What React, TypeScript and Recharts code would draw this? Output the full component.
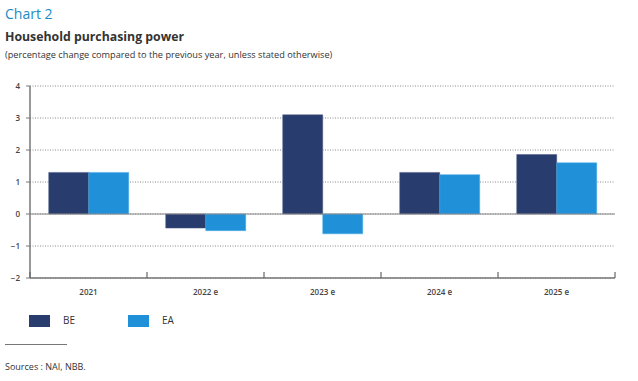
import { BarChart, Bar, XAxis, YAxis, CartesianGrid, ReferenceLine } from "recharts"

const years = ["2021", "2022 e", "2023 e", "2024 e", "2025 e"]
const beValues = [1.3, -0.44, 3.1, 1.3, 1.86]
const eaValues = [1.3, -0.52, -0.62, 1.23, 1.6]
const yTicks = [-2, -1, 0, 1, 2, 3, 4]

const chartData = years.map((year, i) => ({ year, BE: beValues[i], EA: eaValues[i] }))

const BE_COLOR = "#283d6d"
const EA_COLOR = "#2091d9"
const FONT = "'Open Sans', 'DejaVu Sans', sans-serif"

const CHART_W = 638
const LEFT = 30
const RIGHT = 23
const BAND = (CHART_W - LEFT - RIGHT) / years.length

const XTick = (props: any) => {
  const { x, y, payload, index } = props
  return (
    <g>
      <line x1={x - BAND / 2} x2={x - BAND / 2} y1={y - 6} y2={y} stroke="#666" strokeWidth={1.2} />
      {index === years.length - 1 && (
        <line x1={x + BAND / 2} x2={x + BAND / 2} y1={y - 6} y2={y} stroke="#666" strokeWidth={1.2} />
      )}
      <text x={x} y={y + 17} textAnchor="middle" fontSize={8} fontWeight={600} fill="#444" fontFamily={FONT}>
        {payload.value}
      </text>
    </g>
  )
}

const fmtY = (v: number) => (v < 0 ? "\u2212" + Math.abs(v) : String(v))

export default function App() {
  return (
    <div style={{ position: "absolute", top: 0, left: 0, width: 638, height: 381, background: "#fff", fontFamily: FONT }}>
      <div style={{ position: "absolute", left: 5, top: 4, fontSize: 14, color: "#1b8bc6" }}>Chart 2</div>
      <div style={{ position: "absolute", left: 5, top: 28, fontSize: 12.3, fontWeight: 700, color: "#333" }}>
        Household purchasing power
      </div>
      <div style={{ position: "absolute", left: 5, top: 48, fontSize: 9.2, color: "#333" }}>
        (percentage change compared to the previous year, unless stated otherwise)
      </div>

      <div style={{ position: "absolute", left: 0, top: 0 }}>
        <BarChart
          width={CHART_W}
          height={300}
          data={chartData}
          margin={{ top: 86, right: RIGHT, left: 0, bottom: 0 }}
          barCategoryGap="16%"
          barGap={0}
        >
          <CartesianGrid vertical={false} stroke="#888" strokeDasharray="1 1.5" />
          <XAxis
            dataKey="year"
            height={22}
            tickLine={false}
            tickSize={0}
            tickMargin={0}
            tick={<XTick />}
            interval={0}
            axisLine={{ stroke: "#777", strokeWidth: 1.5 }}
          />
          <YAxis
            width={LEFT}
            domain={[-2, 4]}
            ticks={yTicks}
            tickFormatter={fmtY}
            tickSize={4}
            tickMargin={6}
            tick={{ fontSize: 8, fontWeight: 600, fill: "#444", fontFamily: FONT }}
            tickLine={{ stroke: "#777" }}
            axisLine={{ stroke: "#777", strokeWidth: 1.5 }}
          />
          <ReferenceLine y={0} stroke="#888" strokeWidth={1.2} />
          <Bar dataKey="BE" fill={BE_COLOR} stroke="#4a5a85" strokeWidth={0.5} isAnimationActive={false} />
          <Bar dataKey="EA" fill={EA_COLOR} stroke="#4aaae6" strokeWidth={0.5} isAnimationActive={false} />
        </BarChart>
      </div>

      <div style={{ position: "absolute", left: 29, top: 315, width: 21, height: 12, background: BE_COLOR }} />
      <div style={{ position: "absolute", left: 63, top: 313, fontSize: 10, color: "#333" }}>BE</div>
      <div style={{ position: "absolute", left: 128, top: 315, width: 21, height: 12, background: EA_COLOR }} />
      <div style={{ position: "absolute", left: 162, top: 313, fontSize: 10, color: "#333" }}>EA</div>

      <div style={{ position: "absolute", left: 5, top: 344, width: 62, height: 1, background: "#777" }} />
      <div style={{ position: "absolute", left: 5, top: 360, fontSize: 9, color: "#333" }}>Sources : NAI, NBB.</div>
    </div>
  )
}
